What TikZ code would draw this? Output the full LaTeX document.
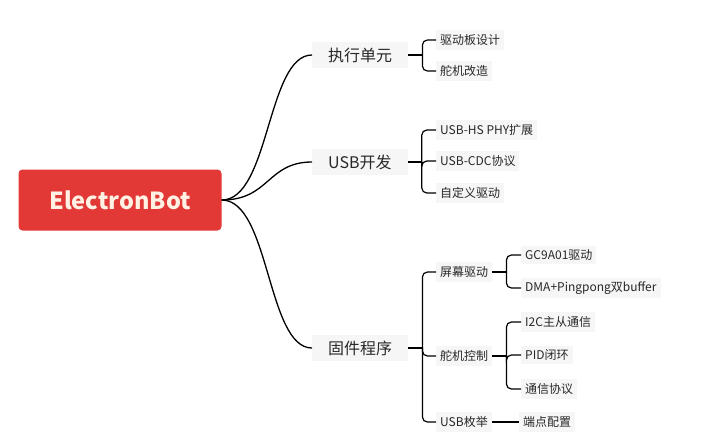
\documentclass[tikz,border=0pt]{standalone}
\usepackage{fontspec}
\setmainfont{Noto Sans CJK SC}
\usetikzlibrary{calc}
\definecolor{rootred}{RGB}{226,56,54}
\definecolor{roottext}{RGB}{255,242,228}
\definecolor{boxgray}{RGB}{246,246,246}
\definecolor{txt}{RGB}{40,40,40}
\tikzset{
  rootbox/.style={fill=rootred, rounded corners=4pt, minimum width=203pt, minimum height=61pt,
    text=roottext, font=\fontsize{23.5}{26}\selectfont\bfseries, inner sep=0pt},
  mainbox/.style={fill=boxgray, anchor=west, inner xsep=16pt, inner ysep=6pt, text=txt,
    font=\fontsize{16}{18}\selectfont},
  leafbox/.style={fill=boxgray, anchor=west, inner xsep=4pt, inner ysep=4pt, text=txt,
    font=\fontsize{12}{14}\selectfont},
  link/.style={draw=black, line width=1.3pt},
  blink/.style={draw=black, line width=1.2pt, rounded corners=5pt},
}
\begin{document}
\begin{tikzpicture}[x=1pt,y=-1pt]
\useasboundingbox (0,0) rectangle (708,440);
% root
\node[rootbox] (root) at (120,200) {ElectronBot};
% main branches
\node[mainbox] (m1) at (312,55) {执行单元};
\node[mainbox] (m2) at (312,162) {USB开发};
\node[mainbox] (m3) at (312,348) {固件程序};
\foreach \m in {m1,m2,m3}{
  \draw[link] (root.east) .. controls +(48,0) and +(-45,0) .. (\m.west);
}
% level 2
\node[leafbox] (a1) at (436,40) {驱动板设计};
\node[leafbox] (a2) at (436,71) {舵机改造};
\node[leafbox] (b1) at (436,130) {USB-HS PHY扩展};
\node[leafbox] (b2) at (436,161) {USB-CDC协议};
\node[leafbox] (b3) at (436,193) {自定义驱动};
\node[leafbox] (c1) at (436,272) {屏幕驱动};
\node[leafbox] (c2) at (436,356) {舵机控制};
\node[leafbox] (c3) at (436,422) {USB枚举};
% level 3
\node[leafbox] (d1) at (521,255) {GC9A01驱动};
\node[leafbox] (d2) at (521,288) {DMA+Pingpong双buffer};
\node[leafbox] (e1) at (521,322) {I2C主从通信};
\node[leafbox] (e2) at (521,355) {PID闭环};
\node[leafbox] (e3) at (521,389) {通信协议};
\node[leafbox] (f1) at (519,422) {端点配置};
% joints
\coordinate (j1) at ($(m1.east)+(14,0)$);
\coordinate (j2) at ($(m2.east)+(14,0)$);
\coordinate (j3) at ($(m3.east)+(14,0)$);
\coordinate (jc1) at ($(c1.east)+(14,0)$);
\coordinate (jc2) at ($(c2.east)+(14,0)$);
\draw[link] (m1.east) -- (j1);
\draw[link] (m2.east) -- (j2);
\draw[link] (m3.east) -- (j3);
\draw[link] (c1.east) -- (jc1);
\draw[link] (c2.east) -- (jc2);
\foreach \c in {a1,a2}{\draw[blink] (j1) |- (\c.west);}
\foreach \c in {b1,b2,b3}{\draw[blink] (j2) |- (\c.west);}
\foreach \c in {c1,c2,c3}{\draw[blink] (j3) |- (\c.west);}
\foreach \c in {d1,d2}{\draw[blink] (jc1) |- (\c.west);}
\foreach \c in {e1,e2,e3}{\draw[blink] (jc2) |- (\c.west);}
\draw[link] (c3.east) -- (f1.west);
\end{tikzpicture}
\end{document}
